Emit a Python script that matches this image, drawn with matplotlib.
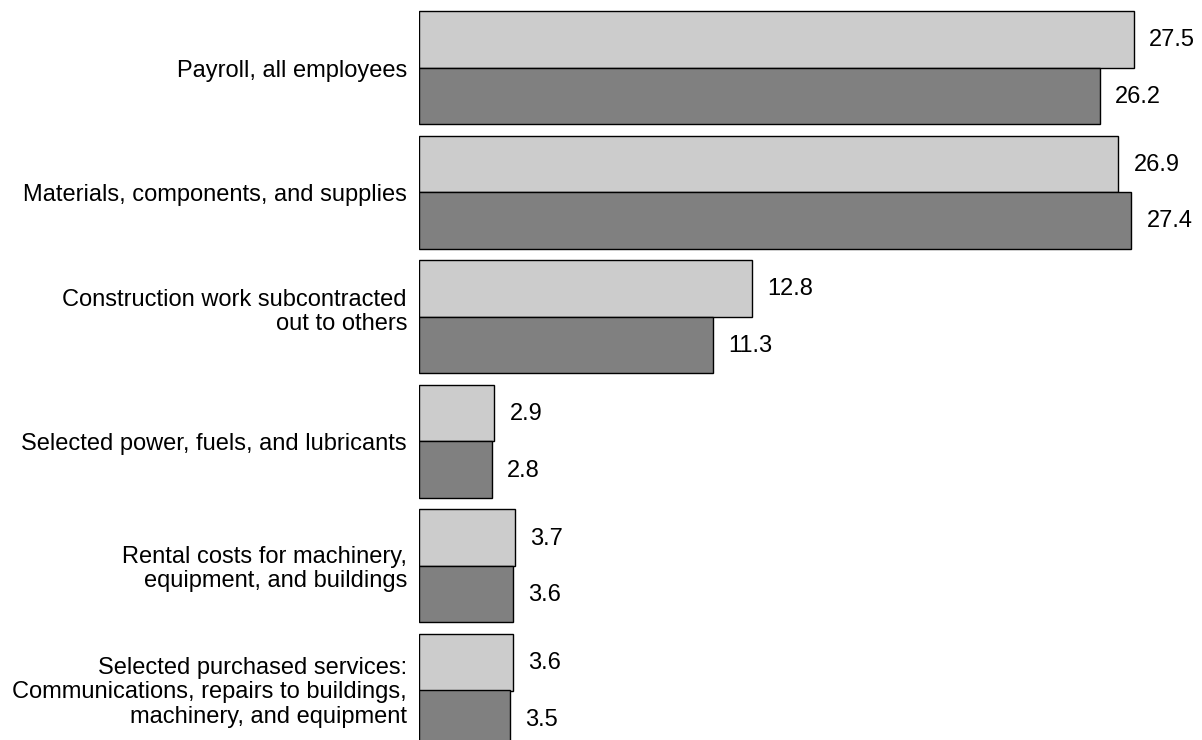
import numpy as np
import matplotlib.pyplot as plt

plt.rcParams['font.family'] = ['Liberation Sans', 'DejaVu Sans']

categories = [
    "Payroll, all employees",
    "Materials, components, and supplies",
    "Construction work subcontracted\nout to others",
    "Selected power, fuels, and lubricants",
    "Rental costs for machinery,\nequipment, and buildings",
    "Selected purchased services:\nCommunications, repairs to buildings,\nmachinery, and equipment",
]
light_vals = [27.5, 26.9, 12.8, 2.9, 3.7, 3.6]
dark_vals = [26.2, 27.4, 11.3, 2.8, 3.6, 3.5]

W, H = 1202, 740
fig = plt.figure(figsize=(W / 100, H / 100), dpi=100)
left_px = 419
ax = fig.add_axes([left_px / W, 0, 1 - left_px / W, 1])

pitch = 124.6          # px per group
h = 56.5 / pitch       # bar height in data units
top_px = 11
px_per_unit = 26.0
fs = 17

y = np.arange(len(categories))
ax.barh(y - h / 2, light_vals, height=h, color='#cccccc', edgecolor='black', linewidth=1)
ax.barh(y + h / 2, dark_vals, height=h, color='#808080', edgecolor='black', linewidth=1)

for i in range(len(categories)):
    ax.text(light_vals[i] + 15 / px_per_unit, y[i] - h / 2 + 1 / pitch, f"{light_vals[i]:.1f}",
            va='center', ha='left', fontsize=fs)
    ax.text(dark_vals[i] + 15 / px_per_unit, y[i] + h / 2 + 1 / pitch, f"{dark_vals[i]:.1f}",
            va='center', ha='left', fontsize=fs)

# category labels (the construction label sits a bit higher in the original)
shift = [3, 3, -5, 3, 3, 2]
for i, lab in enumerate(categories):
    ax.text(-12 / px_per_unit, y[i] + shift[i] / pitch, lab, ha='right', va='center',
            multialignment='right', fontsize=fs, linespacing=1.12)

ax.set_xlim(0, (W - left_px) / px_per_unit)
y_top = -h - top_px / pitch
ax.set_ylim(y_top + H / pitch, y_top)

ax.set_xticks([])
ax.set_yticks([])
for s in ax.spines.values():
    s.set_visible(False)

fig.savefig('out.png', dpi=100)
